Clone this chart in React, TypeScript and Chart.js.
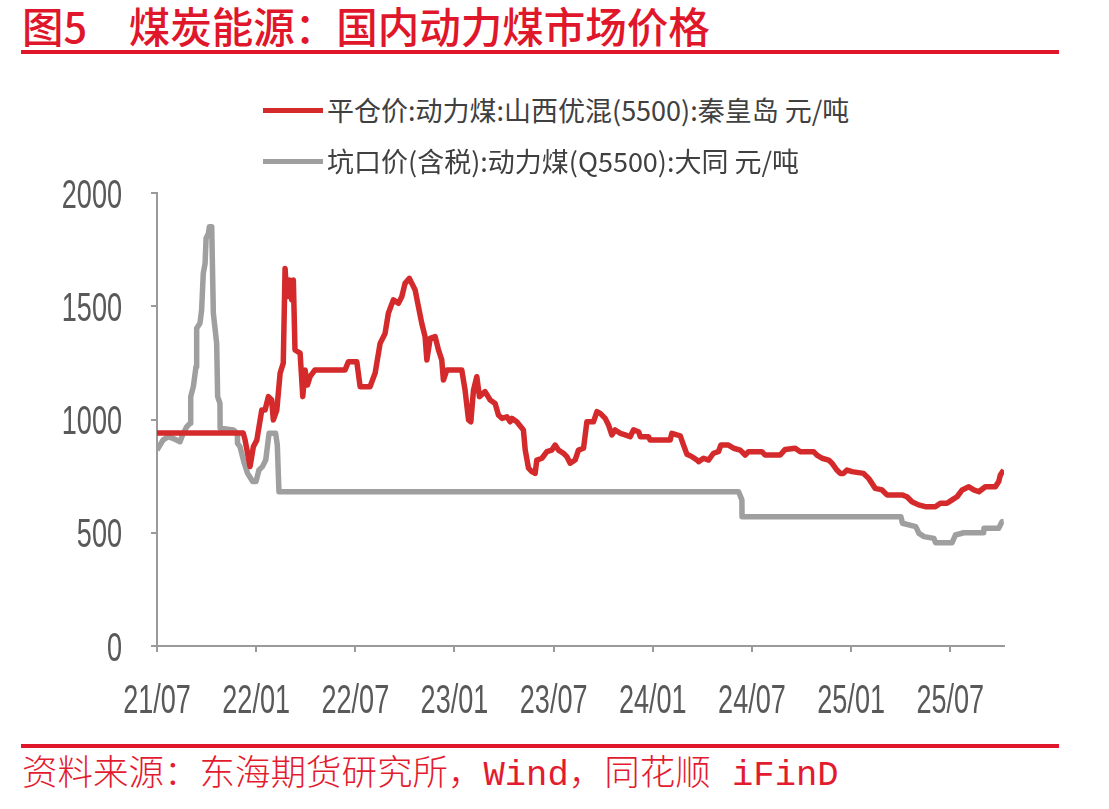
import React, { useEffect, useRef } from 'react';
import { Chart, registerables } from 'chart.js';

Chart.register(...registerables);

const titleText = '图5　煤炭能源：国内动力煤市场价格';
const sourceText = '资料来源：东海期货研究所，Wind，同花顺 iFinD';
const seriesNames = ['平仓价:动力煤:山西优混(5500):秦皇岛 元/吨', '坑口价(含税):动力煤(Q5500):大同 元/吨'];
const seriesColors = ['#D42A2B', '#9F9F9F'];

const xTickLabels = ['21/07', '22/01', '22/07', '23/01', '23/07', '24/01', '24/07', '25/01', '25/07'];
const xTickMonths = [0, 6, 12, 18, 24, 30, 36, 42, 48];
const yTicks = [0, 500, 1000, 1500, 2000];
const xMax = 51.25;

// months since 2021-07
const redMonths = [
  0, 5.22, 5.33, 5.63, 5.83, 6.04, 6.34, 6.54, 6.74, 6.94,
  7.04, 7.25, 7.45, 7.64, 7.75, 7.85, 8.01, 8.15, 8.25, 8.35,
  8.66, 8.82, 8.96, 9.10, 9.26, 9.56, 11.38, 11.58, 12.09, 12.29,
  12.89, 13.20, 13.50, 13.80, 14.00, 14.30, 14.61, 14.81, 15.01, 15.27,
  15.62, 15.82, 16.02, 16.22, 16.33, 16.53, 16.83, 17.03, 17.23, 17.33,
  17.54, 18.44, 18.64, 18.85, 18.99, 19.15, 19.35, 19.51, 19.85, 20.16,
  20.46, 20.66, 20.87, 21.17, 21.37, 21.47, 21.77, 22.17, 22.28, 22.48,
  22.68, 22.88, 22.98, 23.29, 23.59, 23.89, 24.09, 24.29, 24.59, 24.80,
  25.00, 25.30, 25.50, 25.81, 26.01, 26.41, 26.62, 26.82, 27.12, 27.32,
  27.52, 27.72, 28.03, 28.33, 28.63, 28.83, 29.14, 29.24, 29.74, 29.84,
  31.05, 31.15, 31.46, 31.66, 31.86, 32.06, 32.37, 32.67, 32.77, 33.07,
  33.37, 33.67, 33.97, 34.12, 34.58, 34.89, 35.29, 35.59, 35.79, 36.60,
  36.80, 37.71, 38.01, 38.62, 38.92, 39.73, 39.93, 40.24, 40.64, 40.84,
  41.14, 41.34, 41.54, 41.75, 42.05, 42.75, 43.06, 43.26, 43.46, 43.87,
  44.17, 45.08, 45.38, 45.68, 46.08, 46.49, 47.09, 47.40, 47.80, 48.11,
  48.41, 48.72, 49.12, 49.42, 49.73, 50.12, 50.73, 50.93, 51.03, 51.23,
];
const redValues = [
  940, 940, 910, 792, 880, 909, 1042, 1042, 1101, 1086,
  998, 1042, 1205, 1249, 1667, 1542, 1616, 1528, 1616, 1307,
  1293, 1101, 1219, 1152, 1189, 1219, 1219, 1255, 1255, 1145,
  1145, 1205, 1336, 1380, 1469, 1528, 1513, 1542, 1601, 1623,
  1572, 1498, 1425, 1366, 1263, 1358, 1366, 1307, 1263, 1174,
  1219, 1219, 1130, 998, 990, 1130, 1189, 1101, 1123, 1086,
  1071, 1020, 1005, 1012, 990, 1005, 990, 954, 865, 785,
  770, 762, 821, 829, 858, 865, 887, 865, 851, 836,
  807, 821, 865, 873, 990, 990, 1035, 1027, 1005, 976,
  932, 954, 939, 932, 924, 954, 946, 924, 924, 909,
  909, 939, 932, 928, 887, 847, 836, 821, 814, 829,
  821, 851, 858, 887, 887, 873, 865, 843, 858, 858,
  843, 843, 868, 873, 858, 858, 843, 829, 821, 807,
  777, 762, 762, 777, 770, 762, 740, 718, 696, 689,
  667, 667, 659, 637, 623, 615, 615, 630, 630, 645,
  659, 689, 703, 689, 681, 703, 703, 726, 755, 777,
];

const grayMonths = [
  0, 0.36, 0.66, 0.96, 1.39, 1.59, 1.80, 2.00, 2.04, 2.20,
  2.36, 2.40, 2.60, 2.70, 2.80, 2.91, 2.97, 3.11, 3.17, 3.31,
  3.41, 3.61, 3.67, 3.81, 3.82, 4.62, 4.86, 4.87, 5.02, 5.28,
  5.48, 5.79, 5.99, 6.17, 6.38, 6.58, 6.68, 6.78, 7.18, 7.28,
  7.38, 35.19, 35.39, 35.40, 45.01, 45.11, 45.91, 46.11, 46.41, 47.01,
  47.11, 48.11, 48.31, 48.81, 50.02, 50.04, 50.93, 51.13, 51.23,
];
const grayValues = [
  865, 909, 924, 917, 902, 939, 968, 983, 1101, 1145,
  1233, 1403, 1425, 1483, 1645, 1689, 1800, 1821, 1851, 1851,
  1469, 1336, 1101, 1071, 961, 954, 939, 895, 880, 807,
  762, 726, 726, 777, 792, 821, 880, 939, 939, 887,
  681, 681, 645, 571, 571, 542, 527, 497, 483, 475,
  456, 456, 490, 500, 500, 520, 520, 549, 550,
];

const tickFontSize = 41;
const tickFont = `${tickFontSize}px "Liberation Sans", Arial, sans-serif`;
const tickSqueeze = 0.66;
const cjkFont = '"Noto Sans CJK SC", "Noto Sans", sans-serif';

// draws the axis tick labels condensed (narrow, tall), at the positions of the scales' own ticks
const condensedTickLabels = {
  id: 'condensedTickLabels',
  afterDraw(chart: any) {
    const ctx = chart.ctx as CanvasRenderingContext2D;
    const xs = chart.scales.x;
    const ys = chart.scales.y;
    ctx.save();
    ctx.font = tickFont;
    ctx.fillStyle = '#595959';
    ctx.textBaseline = 'alphabetic';
    ctx.textAlign = 'center';
    xs.ticks.forEach((t: any, i: number) => {
      const px = xs.getPixelForValue(t.value);
      ctx.save();
      ctx.translate(px, xs.top + 67);
      ctx.scale(tickSqueeze, 1);
      ctx.fillText(xTickLabels[i], 0, 0);
      ctx.restore();
    });
    ctx.textAlign = 'right';
    ys.ticks.forEach((t: any) => {
      const py = ys.getPixelForValue(t.value);
      ctx.save();
      ctx.translate(ys.right - 35, py + 14.5);
      ctx.scale(tickSqueeze, 1);
      ctx.fillText(String(t.value), 0, 0);
      ctx.restore();
    });
    ctx.restore();
  },
};

export default function App() {
  const canvasRef = useRef<HTMLCanvasElement | null>(null);

  useEffect(() => {
    const canvas = canvasRef.current;
    if (!canvas) return;
    const axisStyle = {
      grid: { drawOnChartArea: false, drawTicks: true, tickLength: 6, color: '#9A9A9A', lineWidth: 2 },
      border: { display: true, color: '#9A9A9A', width: 2 },
    };
    const chart = new Chart(canvas, {
      type: 'line',
      data: {
        datasets: [
          {
            label: seriesNames[0],
            data: redMonths.map((m, i) => ({ x: m, y: redValues[i] })),
            borderColor: seriesColors[0],
            backgroundColor: seriesColors[0],
            borderWidth: 5.5,
            pointRadius: 0,
            tension: 0,
            borderJoinStyle: 'round',
          },
          {
            label: seriesNames[1],
            data: grayMonths.map((m, i) => ({ x: m, y: grayValues[i] })),
            borderColor: seriesColors[1],
            backgroundColor: seriesColors[1],
            borderWidth: 5.5,
            pointRadius: 0,
            tension: 0,
            borderJoinStyle: 'round',
          },
        ],
      },
      options: {
        animation: false,
        responsive: false,
        layout: { padding: { top: 43, right: 105, left: 0, bottom: 0 } },
        plugins: { legend: { display: false }, tooltip: { enabled: false } },
        scales: {
          x: {
            type: 'linear',
            min: 0,
            max: xMax,
            afterFit: (s: any) => { s.height = 104; },
            afterBuildTicks: (s: any) => { s.ticks = xTickMonths.map((v) => ({ value: v })); },
            ticks: { display: false, callback: (_v: any, i: number) => xTickLabels[i] },
            ...axisStyle,
          },
          y: {
            min: 0,
            max: 2000,
            afterFit: (s: any) => { s.width = 157; },
            afterBuildTicks: (s: any) => { s.ticks = yTicks.map((v) => ({ value: v })); },
            ticks: { display: false },
            ...axisStyle,
          },
        },
      },
      plugins: [condensedTickLabels],
    } as any);
    return () => chart.destroy();
  }, []);

  return (
    <div style={{ position: 'fixed', left: 0, top: 0, width: 1109, height: 809, background: '#fff', overflow: 'hidden' }}>
      <div style={{ position: 'absolute', left: 22, top: 3, fontFamily: cjkFont, fontSize: 41.5, lineHeight: '44px', color: '#E0162B', fontWeight: 500, whiteSpace: 'nowrap' }}>
        {titleText}
      </div>
      <div style={{ position: 'absolute', left: 21, top: 50, width: 1038, height: 4, background: '#E0162B' }} />
      {seriesNames.map((name, i) => (
        <div key={i} style={{ position: 'absolute', left: 263, top: i === 0 ? 92 : 143, height: 36, display: 'flex', alignItems: 'center', zIndex: 2, whiteSpace: 'nowrap' }}>
          <div style={{ width: 60, height: 5, background: seriesColors[i], marginRight: 4 }} />
          <span style={{ fontFamily: cjkFont, fontSize: 27, lineHeight: '36px', color: '#404040' }}>{name}</span>
        </div>
      ))}
      <canvas ref={canvasRef} width={1109} height={600} style={{ position: 'absolute', left: 0, top: 150, width: 1109, height: 600 }} />
      <div style={{ position: 'absolute', left: 21, top: 744, width: 1038, height: 4, background: '#E0162B' }} />
      <div style={{ position: 'absolute', left: 22, top: 756, fontFamily: '"Liberation Mono", "Noto Sans CJK SC", monospace', fontSize: 35.5, lineHeight: '40px', color: '#E31B2F', fontWeight: 300, whiteSpace: 'nowrap' }}>
        {sourceText}
      </div>
    </div>
  );
}
